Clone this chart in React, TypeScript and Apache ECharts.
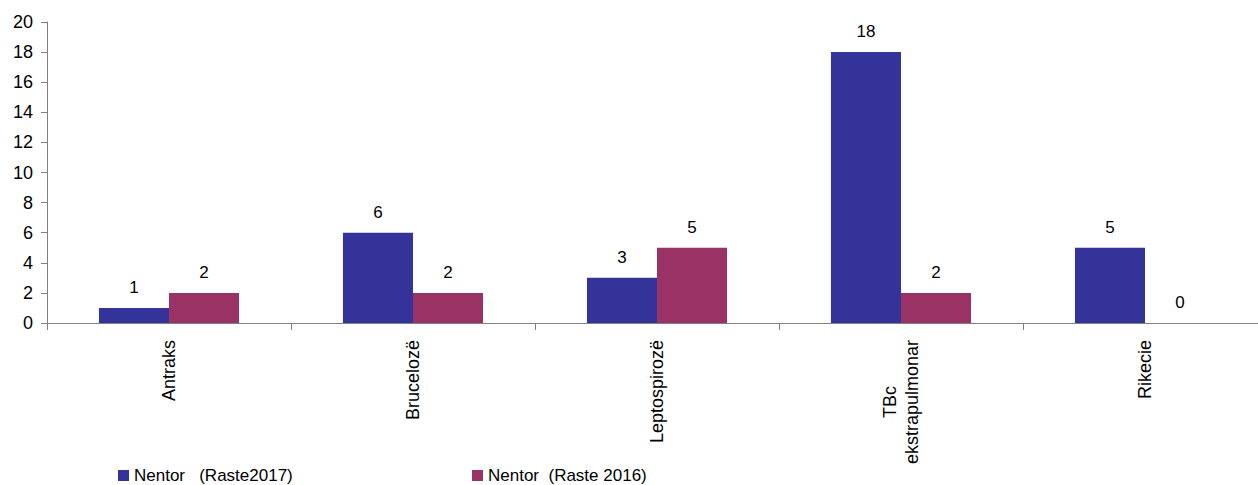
import React, { useEffect, useRef } from "react";
import * as echarts from "echarts";

const categories = ["Antraks", "Brucelozë", "Leptospirozë", "TBc\nekstrapulmonar", "Rikecie"];
const series2017 = [1, 6, 3, 18, 5];
const series2016 = [2, 2, 5, 2, 0];
const seriesNames = ["Nentor   (Raste2017)", "Nentor  (Raste 2016)"];
const colors = ["#333399", "#993366"];

const FONT = "'Liberation Sans', Arial, sans-serif";
const CAT_SIZE = 18;

export default function App() {
  const ref = useRef<HTMLDivElement>(null);
  useEffect(() => {
    if (!ref.current) return;
    const chart = echarts.init(ref.current, null, { renderer: "svg" });
    const legendText = { fontSize: 17, color: "#000", fontFamily: FONT, lineHeight: 17 };
    chart.setOption({
      animation: false,
      textStyle: { fontFamily: FONT },
      grid: {
        left: 47,
        width: 1220,
        top: 22,
        bottom: 162,
        containLabel: false,
        outerBoundsMode: "none",
      },
      legend: [
        {
          data: [seriesNames[0]],
          left: 118,
          top: 467,
          padding: 0,
          itemWidth: 11,
          itemHeight: 11,
          itemGap: 5,
          icon: "rect",
          textStyle: legendText,
        },
        {
          data: [seriesNames[1]],
          left: 472,
          top: 467,
          padding: 0,
          itemWidth: 11,
          itemHeight: 11,
          icon: "rect",
          textStyle: legendText,
        },
      ],
      xAxis: {
        type: "category",
        data: categories,
        axisLine: { lineStyle: { color: "#808080", width: 1 } },
        axisTick: { show: true, length: 7, lineStyle: { color: "#808080" } },
        axisLabel: {
          rotate: 90,
          interval: 0,
          margin: 17,
          fontSize: CAT_SIZE,
          color: "#000",
          fontFamily: FONT,
          lineHeight: 22,
          formatter: (v: string) =>
            v
              .split("\n")
              .map((l) => "{c|" + l + "}")
              .join("\n"),
          rich: {
            c: { align: "center", fontSize: CAT_SIZE, color: "#000", fontFamily: FONT, lineHeight: 22 },
          },
        },
      },
      yAxis: {
        type: "value",
        min: 0,
        max: 20,
        interval: 2,
        splitLine: { show: false },
        axisLine: { show: true, lineStyle: { color: "#808080", width: 1 } },
        axisTick: { show: true, length: 6, lineStyle: { color: "#808080" } },
        axisLabel: { fontSize: 18, color: "#000", margin: 14, fontFamily: FONT },
      },
      series: [
        {
          name: seriesNames[0],
          type: "bar",
          data: series2017,
          itemStyle: { color: colors[0] },
          barGap: "0%",
          barCategoryGap: "42.6%",
          label: { show: true, position: "top", distance: 12, fontSize: 17, color: "#000", fontFamily: FONT },
        },
        {
          name: seriesNames[1],
          type: "bar",
          data: series2016,
          itemStyle: { color: colors[1] },
          barGap: "0%",
          barCategoryGap: "42.6%",
          label: { show: true, position: "top", distance: 12, fontSize: 17, color: "#000", fontFamily: FONT },
        },
      ],
    });
    return () => chart.dispose();
  }, []);
  return (
    <div
      ref={ref}
      style={{ position: "absolute", left: 0, top: 0, width: 1258, height: 485, background: "#fff" }}
    />
  );
}
